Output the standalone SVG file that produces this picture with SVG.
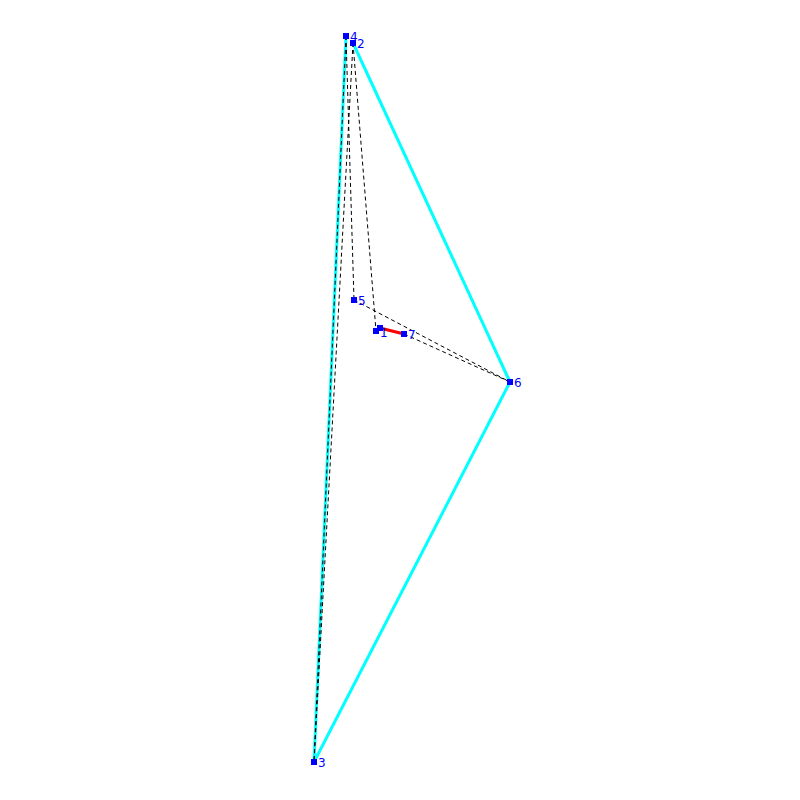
<svg xmlns="http://www.w3.org/2000/svg" width="800" height="800" viewBox="0 0 800 800">
<style>
.c{stroke:#00ffff;stroke-width:3;fill:none}
.d{stroke:#000;stroke-width:1;stroke-dasharray:4,3;fill:none}
.r{stroke:#ff0000;stroke-width:3;fill:none}
.n rect{fill:#0000ff}
.n text{fill:#0000ff;font-family:"DejaVu Sans",sans-serif;font-size:12px}
</style>
<rect width="800" height="800" fill="#fff"/>
<g id="connectors">
<line class="c" x1="346" y1="36" x2="314" y2="762"/>
<line class="c" x1="353" y1="43" x2="510" y2="382"/>
<line class="c" x1="510" y1="382" x2="314" y2="762"/>
<line class="d" x1="346" y1="36" x2="314" y2="762"/>
<line class="d" x1="353" y1="43" x2="314" y2="762"/>
<line class="d" x1="346" y1="36" x2="354" y2="300"/>
<line class="d" x1="353" y1="43" x2="376" y2="331"/>
<line class="d" x1="354" y1="300" x2="510" y2="382"/>
<line class="d" x1="404" y1="334" x2="510" y2="382"/>
<line class="r" x1="380" y1="328" x2="404" y2="334"/>
</g>
<g id="node4" class="n"><rect x="343" y="33" width="6" height="6"/><text x="350" y="41">4</text></g>
<g id="node2" class="n"><rect x="350" y="40" width="6" height="6"/><text x="357" y="48">2</text></g>
<g id="node5" class="n"><rect x="351" y="297" width="6" height="6"/><text x="358" y="305">5</text></g>
<g id="node1" class="n"><rect x="373" y="328" width="6" height="6"/><text x="380" y="337">1</text></g>
<g id="node0" class="n"><rect x="377" y="325" width="6" height="6"/></g>
<g id="node7" class="n"><rect x="401" y="331" width="6" height="6"/><text x="408" y="339">7</text></g>
<g id="node6" class="n"><rect x="507" y="379" width="6" height="6"/><text x="514" y="387">6</text></g>
<g id="node3" class="n"><rect x="311" y="759" width="6" height="6"/><text x="318" y="767">3</text></g>
</svg>
